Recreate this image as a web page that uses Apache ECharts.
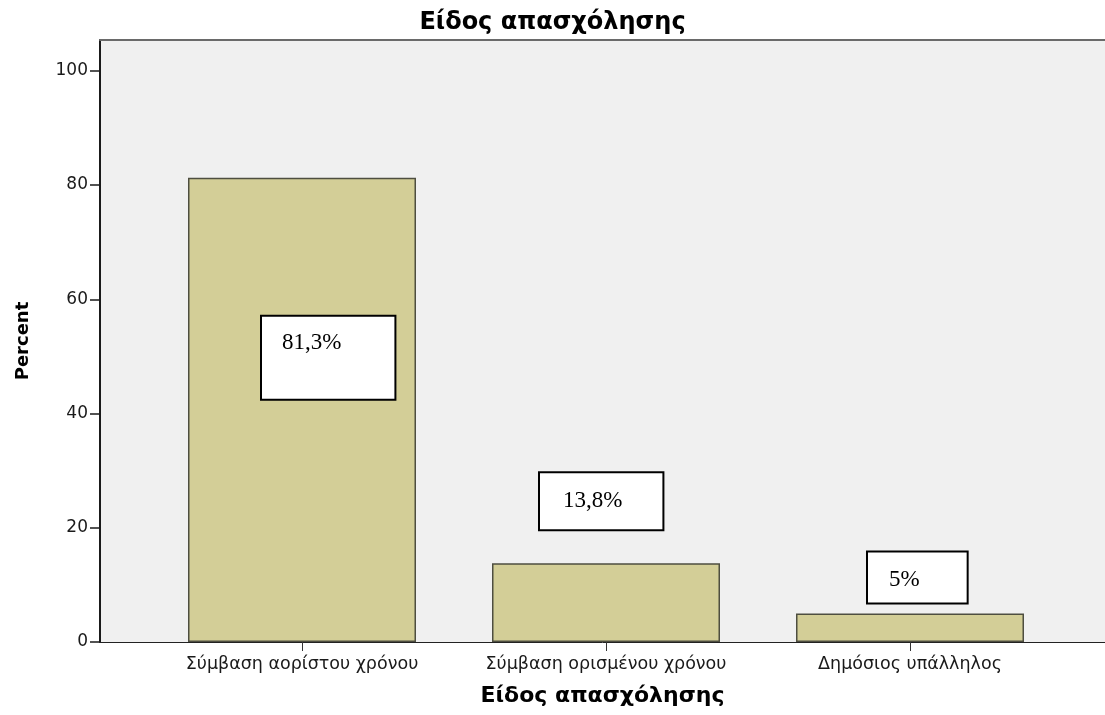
<!DOCTYPE html>
<html>
<head>
<meta charset="utf-8">
<title>Είδος απασχόλησης</title>
<script src="https://cdn.jsdelivr.net/npm/echarts@6/dist/echarts.min.js"></script>
<style>
  html, body { margin: 0; padding: 0; background: #fff; }
  #chart { width: 1105px; height: 715px; }
</style>
</head>
<body>
<div id="chart"></div>
<script>
// δεδομένα
const categories = ['Σύμβαση αορίστου χρόνου', 'Σύμβαση ορισμένου χρόνου', 'Δημόσιος υπάλληλος'];
const percentValues = [81.3, 13.8, 5];
const boxLabels = ['81,3%', '13,8%', '5%'];
const yTicks = [0, 20, 40, 60, 80, 100];

const Y_MAX = 105.4;
const FONT = 'DejaVu Sans';

// θέση/μέγεθος των πλαισίων (σχετικά με την μπάρα)
const boxStyles = [
    { position: [74, 139], padding: [15, 53, 44, 20] },
    { position: [48, -90], padding: [16, 40, 17, 23] },
    { position: [72, -61], padding: [16, 47, 11, 21] }
];

const chart = echarts.init(document.getElementById('chart'));

const option = {
    animation: false,
    backgroundColor: '#ffffff',
    title: {
        text: 'Είδος απασχόλησης',
        left: 'center',
        top: 6,
        textStyle: { fontFamily: FONT, fontSize: 24, fontWeight: 'bold', color: '#000' }
    },
    grid: [
        // φόντο + άξονες
        { left: 100, right: 0, top: 40, bottom: 73, show: true, backgroundColor: '#f0f0f0', borderWidth: 0 },
        // κατηγορίες
        { left: 150, right: 43, top: 40, bottom: 73 }
    ],
    xAxis: [
        {
            gridIndex: 0, type: 'value', min: 0, max: 1, position: 'bottom',
            axisLine: { show: true, lineStyle: { color: '#222', width: 1 } },
            axisTick: { show: false }, axisLabel: { show: false }, splitLine: { show: false },
            name: 'Είδος απασχόλησης', nameLocation: 'middle', nameGap: 43,
            nameTextStyle: { fontFamily: FONT, fontSize: 22, fontWeight: 'bold', color: '#000' }
        },
        {
            gridIndex: 0, type: 'value', min: 0, max: 1, position: 'top',
            axisLine: { show: true, lineStyle: { color: '#6a6a6a', width: 2 } },
            axisTick: { show: false }, axisLabel: { show: false }, splitLine: { show: false }
        },
        {
            gridIndex: 1, type: 'category', data: categories,
            axisLine: { show: false },
            axisTick: { show: true, interval: 0, alignWithLabel: true, length: 9, lineStyle: { color: '#333' } },
            axisLabel: { interval: 0, hideOverlap: false, fontFamily: FONT, fontSize: 17.5, color: '#1a1a1a', margin: 13 }
        }
    ],
    yAxis: [
        {
            gridIndex: 0, type: 'value', min: 0, max: Y_MAX, interval: 20,
            axisLine: { show: true, lineStyle: { color: '#1a1a1a', width: 2 } },
            axisTick: { show: true, length: 10, customValues: yTicks, lineStyle: { color: '#1a1a1a', width: 1.5 } },
            axisLabel: {
                fontFamily: FONT, fontSize: 17, color: '#1a1a1a', margin: 12,
                customValues: yTicks,
                formatter: v => (v % 20 === 0 ? String(v) : '')
            },
            splitLine: { show: false },
            name: 'Percent', nameLocation: 'middle', nameGap: 68, nameRotate: 90,
            nameTextStyle: { fontFamily: FONT, fontSize: 18, fontWeight: 'bold', color: '#000' }
        },
        {
            gridIndex: 1, type: 'value', min: 0, max: Y_MAX, show: false
        }
    ],
    series: [
        {
            type: 'bar',
            xAxisIndex: 2,
            yAxisIndex: 1,
            barWidth: 228,
            itemStyle: { color: '#d3ce97', borderColor: '#4e4e40', borderWidth: 1.5 },
            data: percentValues.map((v, i) => ({
                value: v,
                label: {
                    show: true,
                    position: boxStyles[i].position,
                    align: 'left',
                    verticalAlign: 'top',
                    formatter: boxLabels[i],
                    fontFamily: 'Liberation Serif',
                    fontSize: 23,
                    lineHeight: 23,
                    color: '#000',
                    backgroundColor: '#ffffff',
                    borderColor: '#000',
                    borderWidth: 2,
                    padding: boxStyles[i].padding
                }
            }))
        }
    ]
};

chart.setOption(option);
</script>
</body>
</html>
